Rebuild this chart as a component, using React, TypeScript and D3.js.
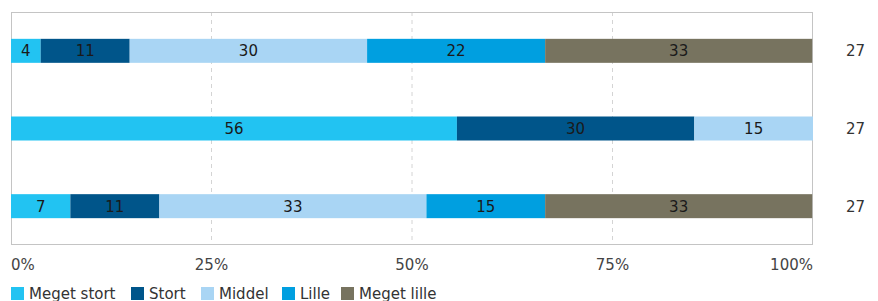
import React from "react";
import * as d3 from "d3";

const categories = ["Meget stort", "Stort", "Middel", "Lille", "Meget lille"];
const colors = ["#22c3f2", "#00558a", "#a9d5f4", "#009fe0", "#77735f"];
const rows = ["A", "B", "C"];
const rowN = [27, 27, 27];
// percentage values per row, in category order
const row1 = [3.7, 11.1, 29.6, 22.2, 33.3];
const row2 = [55.6, 29.6, 14.8, 0, 0];
const row3 = [7.4, 11.1, 33.3, 14.8, 33.3];
const tickValues = [0, 25, 50, 75, 100];
const tickLabels = ["0%", "25%", "50%", "75%", "100%"];

const W = 878;
const H = 301;
const left = 11;
const right = 813;
const top = 12;
const bottom = 245;
const font = "'DejaVu Sans', Verdana, sans-serif";

export default function App() {
  const data = [row1, row2, row3];
  const x = d3.scaleLinear().domain([0, 100]).range([left, right]);
  const y = d3.scalePoint<string>().domain(rows).range([top, bottom]).padding(0.5);
  const barH = 24;
  const stack = d3.stack<number[]>().keys(categories.map((_, i) => String(i))).value((d, k) => d[+k]);
  const series = stack(data);

  const legendX = [11, 131, 201, 282, 341];

  return (
    <svg width={W} height={H} style={{ position: "absolute", left: 0, top: 0, fontFamily: font }}>
      {tickValues.slice(1, 4).map((t) => (
        <line key={t} x1={x(t)} x2={x(t)} y1={top} y2={bottom} stroke="#d4d4d4" strokeDasharray="4,4" strokeWidth={1} />
      ))}
      <rect x={left + 0.5} y={top + 0.5} width={right - left - 1} height={bottom - top - 1} fill="none" stroke="#c4c4c4" strokeWidth={1} />
      {series.map((s, si) => (
        <g key={si}>
          {s.map((d, ri) => {
            const v = data[ri][si];
            if (!v) return null;
            const x0 = x(d[0]);
            const x1 = x(d[1]);
            const cy = y(rows[ri])!;
            return (
              <g key={ri}>
                <rect x={x0} y={cy - barH / 2} width={x1 - x0} height={barH} fill={colors[si]} />
                <text x={(x0 + x1) / 2} y={cy} dy="0.36em" textAnchor="middle" fontSize={15} fill="#1a1a1a">
                  {Math.round(v)}
                </text>
              </g>
            );
          })}
        </g>
      ))}
      {rows.map((r, i) => (
        <text key={r} x={846} y={y(r)!} dy="0.36em" fontSize={15} fill="#333">
          {rowN[i]}
        </text>
      ))}
      {tickValues.map((t, i) => (
        <text
          key={t}
          x={x(t)}
          y={270}
          fontSize={15}
          fill="#444"
          textAnchor={i === 0 ? "start" : i === tickValues.length - 1 ? "end" : "middle"}
        >
          {tickLabels[i]}
        </text>
      ))}
      {categories.map((c, i) => (
        <g key={c}>
          <rect x={legendX[i]} y={287} width={13} height={13} fill={colors[i]} />
          <text x={legendX[i] + 18} y={299} fontSize={15} fill="#333">
            {c}
          </text>
        </g>
      ))}
    </svg>
  );
}
